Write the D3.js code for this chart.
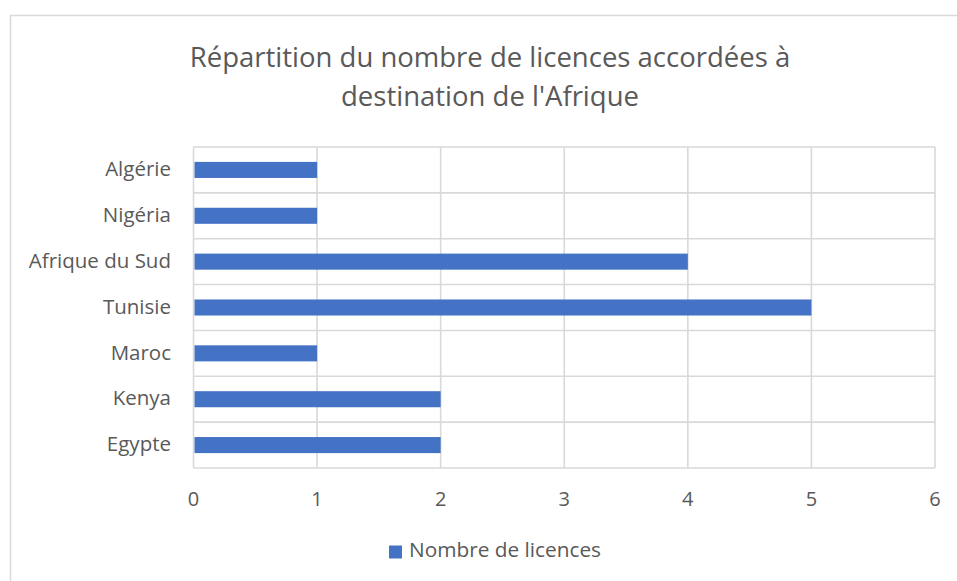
<!DOCTYPE html>
<html>
<head>
<meta charset="utf-8">
<script src="https://cdn.jsdelivr.net/npm/d3@7"></script>
<style>
  body { margin: 0; background: #fff; }
  text { font-family: "Open Sans", "Noto Sans", sans-serif; fill: #595959; }
</style>
</head>
<body>
<div class="chart-container"></div>
<script>
var categories = ['Algérie', 'Nigéria', 'Afrique du Sud', 'Tunisie', 'Maroc', 'Kenya', 'Egypte'];
var licences = [1, 1, 4, 5, 1, 2, 2];
var xTicks = [0, 1, 2, 3, 4, 5, 6];
var titleLines = ['Répartition du nombre de licences accordées à', "destination de l'Afrique"];
var seriesName = 'Nombre de licences';

var W = 957, H = 581;
var margin = {top: 147, right: 22, bottom: 113, left: 193.5};
var width = W - margin.left - margin.right;
var height = H - margin.top - margin.bottom;

var data = categories.map((c, i) => ({name: c, value: licences[i]}));

var svg = d3.select('.chart-container').append('svg')
  .attr('width', W)
  .attr('height', H);

// chart frame (runs off the right and bottom edges)
svg.append('rect')
  .attr('x', 10.5).attr('y', 15.5)
  .attr('width', W).attr('height', H)
  .attr('fill', 'none')
  .attr('stroke', '#d9d9d9')
  .attr('stroke-width', 1.5);

var x = d3.scaleLinear()
  .domain([0, 6])
  .range([margin.left, margin.left + width]);

var y = d3.scaleBand()
  .domain(categories)
  .range([margin.top, margin.top + height])
  .paddingInner(0.65)
  .paddingOuter(0.325);

var yGrid = d3.scaleBand()
  .domain(categories)
  .range([margin.top, margin.top + height]);

var grid = svg.append('g')
  .attr('stroke', '#d9d9d9')
  .attr('stroke-width', 1.6);

grid.selectAll('.vline')
  .data(xTicks)
  .enter().append('line')
  .attr('x1', d => x(d)).attr('x2', d => x(d))
  .attr('y1', margin.top).attr('y2', margin.top + height);

grid.selectAll('.hline')
  .data(categories.concat(['__end']))
  .enter().append('line')
  .attr('x1', margin.left).attr('x2', margin.left + width)
  .attr('y1', d => d === '__end' ? margin.top + height : yGrid(d))
  .attr('y2', d => d === '__end' ? margin.top + height : yGrid(d));

svg.selectAll('.bar')
  .data(data)
  .enter().append('rect')
  .attr('class', 'bar')
  .attr('x', x(0) + 1)
  .attr('y', d => y(d.name))
  .attr('width', d => x(d.value) - x(0) - 1)
  .attr('height', y.bandwidth())
  .attr('fill', '#4472c4');

// category labels
svg.selectAll('.cat')
  .data(categories)
  .enter().append('text')
  .attr('x', 171)
  .attr('y', d => yGrid(d) + yGrid.bandwidth() / 2)
  .attr('dy', '0.3em')
  .attr('text-anchor', 'end')
  .attr('font-size', 20.5)
  .text(d => d);

// x tick labels
svg.selectAll('.tick-label')
  .data(xTicks)
  .enter().append('text')
  .attr('x', d => x(d))
  .attr('y', 506)
  .attr('text-anchor', 'middle')
  .attr('font-size', 20)
  .text(d => d);

// title
svg.selectAll('.title')
  .data(titleLines)
  .enter().append('text')
  .attr('x', 490)
  .attr('y', (d, i) => 66.5 + i * 39)
  .attr('text-anchor', 'middle')
  .attr('font-size', 27.5)
  .text(d => d);

// legend
var legend = svg.append('g')
  .attr('transform', 'translate(389, 545.5)');
legend.append('rect')
  .attr('width', 13).attr('height', 13)
  .attr('fill', '#4472c4');
legend.append('text')
  .attr('x', 20).attr('y', 11.5)
  .attr('font-size', 20.8)
  .text(seriesName);
</script>
</body>
</html>
